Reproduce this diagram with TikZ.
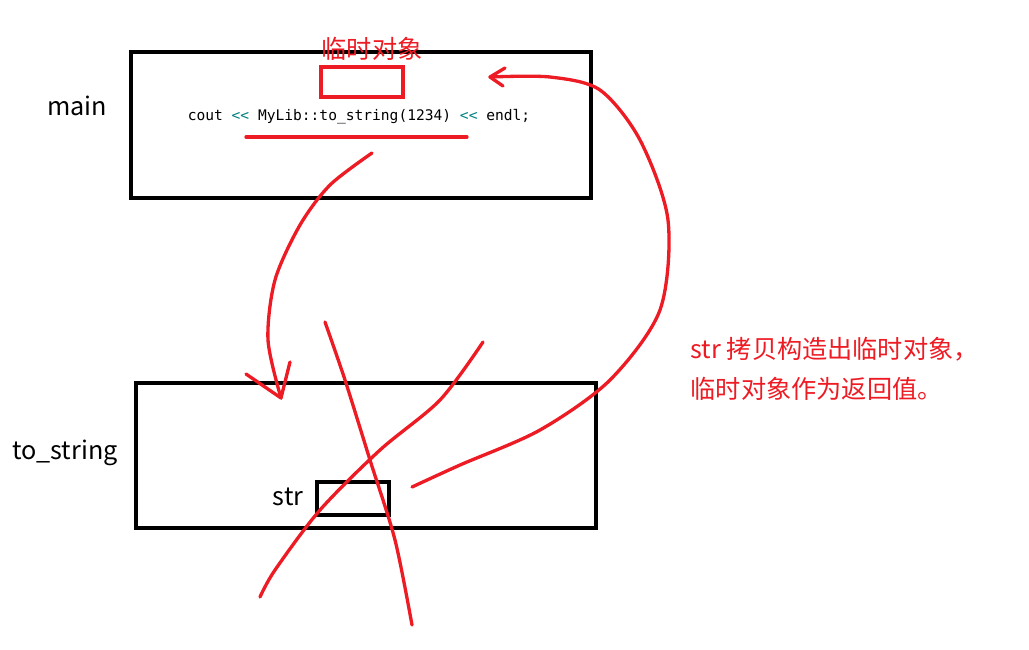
\documentclass[tikz,border=0pt]{standalone}
\usepackage{fontspec}
\setmainfont{Noto Sans CJK SC}
\setmonofont{DejaVu Sans Mono}
\definecolor{rd}{RGB}{237,28,36}
\definecolor{tl}{RGB}{0,128,128}
\begin{document}
\begin{tikzpicture}[x=0.0265cm,y=-0.0265cm,
  box/.style={draw=black,line width=3.5pt},
  redline/.style={draw=rd,line width=2.5pt,line cap=round,line join=round},
  lbl/.style={font=\fontsize{19}{22}\selectfont}]
\useasboundingbox (0,0) rectangle (1029,649);
\draw[box] (131,52) rectangle (591,198);
\draw[box] (136,383) rectangle (596,528);
\draw[box] (317,482) rectangle (389,515);
\draw[draw=rd,line width=3.5pt] (321,67) rectangle (403,97);
\node[lbl] (m) at (77,106) {main};
\node[lbl] (ts) at (65,453) {to\_string};
\node[lbl] (s) at (288,497) {str};
\node[lbl,text=rd] (t) at (372,49) {临时对象};
\node[font=\ttfamily\fontsize{11}{13}\selectfont] (code) at (359,117) {cout \textcolor{tl}{<{}<} MyLib::to\_string(1234) \textcolor{tl}{<{}<} endl;};
\draw[redline] (246,137) -- (467,137);
\node[lbl,text=rd,anchor=west,align=left,font=\fontsize{19}{30}\selectfont] (note) at (686,369) {str 拷贝构造出临时对象，\\临时对象作为返回值。};
% down arrow
\draw[redline] plot[smooth] coordinates {(372,153) (330,185) (300,225) (275,280) (268,340) (281,398)};
\draw[redline] (246,374) -- (281,398) -- (290,362);
% return arrow
\draw[redline] plot[smooth] coordinates {(412,487) (460,465) (540,430) (610,380) (660,310) (668,220) (640,140) (600,90) (550,77) (490,77)};
\draw[redline] (505,68) -- (490,77) -- (503,86);
% cross
\draw[redline] plot[smooth] coordinates {(325,322) (345,380) (370,460) (395,540) (412,625)};
\draw[redline] plot[smooth] coordinates {(483,342) (440,400) (380,450) (320,510) (275,570) (260,597)};
\end{tikzpicture}
\end{document}
